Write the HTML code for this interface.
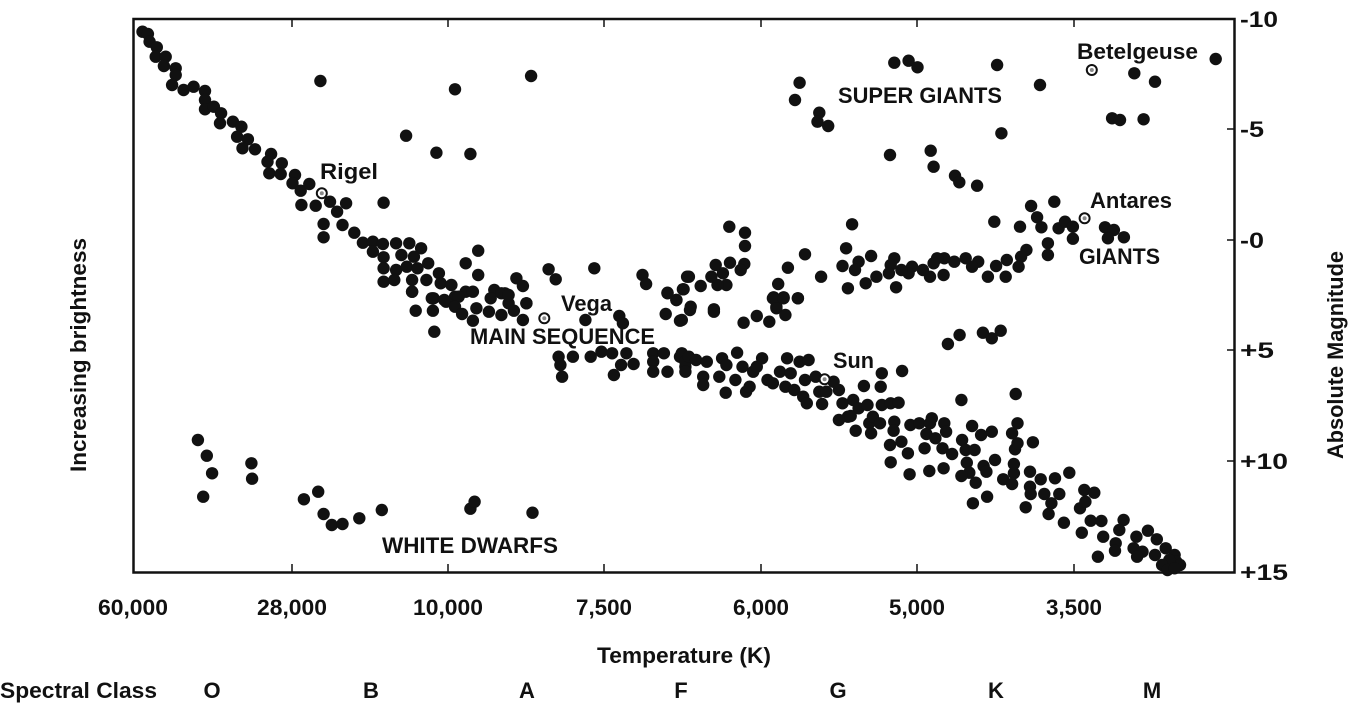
<!DOCTYPE html>
<html><head><meta charset="utf-8"><style>
html,body{margin:0;padding:0;background:#fff;width:1352px;height:707px;overflow:hidden}
text{font-family:"Liberation Sans Narrow","Liberation Sans",sans-serif;font-weight:bold;fill:#111}
</style></head><body>
<svg id="s" width="1352" height="707" viewBox="0 0 1352 707" xmlns="http://www.w3.org/2000/svg">
<rect x="0" y="0" width="1352" height="707" fill="#fff"/>
<rect x="133.5" y="19" width="1101" height="553.5" fill="none" stroke="#111" stroke-width="2.5"/>
<g stroke="#111" stroke-width="1.5">
<line x1="292" y1="19" x2="292" y2="27"/><line x1="448" y1="19" x2="448" y2="27"/><line x1="604" y1="19" x2="604" y2="27"/><line x1="761" y1="19" x2="761" y2="27"/><line x1="917" y1="19" x2="917" y2="27"/><line x1="1074" y1="19" x2="1074" y2="27"/>
<line x1="292" y1="572" x2="292" y2="564"/><line x1="448" y1="572" x2="448" y2="564"/><line x1="604" y1="572" x2="604" y2="564"/><line x1="761" y1="572" x2="761" y2="564"/><line x1="917" y1="572" x2="917" y2="564"/><line x1="1074" y1="572" x2="1074" y2="564"/>
<line x1="1234" y1="129" x2="1227" y2="129"/><line x1="1234" y1="240" x2="1227" y2="240"/><line x1="1234" y1="350" x2="1227" y2="350"/><line x1="1234" y1="461" x2="1227" y2="461"/>
</g>
<g id="dots" fill="#111"></g>
<g font-size="22">
<text x="320" y="179" textLength="58" lengthAdjust="spacingAndGlyphs">Rigel</text>
<text x="561" y="311" textLength="51" lengthAdjust="spacingAndGlyphs">Vega</text>
<text x="470" y="344" textLength="185" lengthAdjust="spacingAndGlyphs">MAIN SEQUENCE</text>
<text x="838" y="103" textLength="164" lengthAdjust="spacingAndGlyphs">SUPER GIANTS</text>
<text x="1077" y="59" textLength="121" lengthAdjust="spacingAndGlyphs">Betelgeuse</text>
<text x="1090" y="208" textLength="82" lengthAdjust="spacingAndGlyphs">Antares</text>
<text x="1079" y="264" textLength="81" lengthAdjust="spacingAndGlyphs">GIANTS</text>
<text x="833" y="368" textLength="41" lengthAdjust="spacingAndGlyphs">Sun</text>
<text x="382" y="553" textLength="176" lengthAdjust="spacingAndGlyphs">WHITE DWARFS</text>
</g>
<g font-size="22" text-anchor="middle">
<text x="133" y="615" textLength="70" lengthAdjust="spacingAndGlyphs">60,000</text>
<text x="292" y="615" textLength="70" lengthAdjust="spacingAndGlyphs">28,000</text>
<text x="448" y="615" textLength="70" lengthAdjust="spacingAndGlyphs">10,000</text>
<text x="604" y="615" textLength="56" lengthAdjust="spacingAndGlyphs">7,500</text>
<text x="761" y="615" textLength="56" lengthAdjust="spacingAndGlyphs">6,000</text>
<text x="917" y="615" textLength="56" lengthAdjust="spacingAndGlyphs">5,000</text>
<text x="1074" y="615" textLength="56" lengthAdjust="spacingAndGlyphs">3,500</text>
<text x="684" y="663" textLength="174" lengthAdjust="spacingAndGlyphs">Temperature (K)</text>
<text x="212" y="698">O</text><text x="371" y="698">B</text><text x="527" y="698">A</text><text x="681" y="698">F</text><text x="838" y="698">G</text><text x="996" y="698">K</text><text x="1152" y="698">M</text>
</g>
<text x="0" y="698" font-size="22" textLength="157" lengthAdjust="spacingAndGlyphs">Spectral Class</text>
<g font-size="22">
<text x="1240" y="27" textLength="38" lengthAdjust="spacingAndGlyphs">-10</text>
<text x="1240" y="137" textLength="24" lengthAdjust="spacingAndGlyphs">-5</text>
<text x="1240" y="248" textLength="24" lengthAdjust="spacingAndGlyphs">-0</text>
<text x="1240" y="358" textLength="34" lengthAdjust="spacingAndGlyphs">+5</text>
<text x="1240" y="469" textLength="48" lengthAdjust="spacingAndGlyphs">+10</text>
<text x="1240" y="580" textLength="48" lengthAdjust="spacingAndGlyphs">+15</text>
</g>
<text transform="translate(1343,355) rotate(-90)" font-size="22" text-anchor="middle" textLength="208" lengthAdjust="spacingAndGlyphs">Absolute Magnitude</text>
<text transform="translate(86,355) rotate(-90)" font-size="22" text-anchor="middle" textLength="234" lengthAdjust="spacingAndGlyphs">Increasing brightness</text>
</svg>
<script>
var sets=[
[130,10,[[35,65],[50,72],[55,95],[75,112],[72,140],[100,140],[95,168],[128,175],[128,195],[118,225],[150,240],[178,230],[210,243],[210,270],[210,298],[235,290],[255,310],[252,340],[288,335],[312,350],[300,380],[330,388],[315,415],[350,418],[395,432],[385,455],[425,460],[390,490],[422,492],[462,495],[455,520],[478,542],[502,522],[560,575],[605,580],[480,585],[520,587],[580,605],[542,642],[595,645],[542,682],[628,668],[652,698],[680,695],[708,702],[745,700],[782,700],[815,715],[680,725],[710,742],[760,735],[795,740],[835,760],[710,775],[745,780],[775,770],[805,775],[710,815],[740,810],[790,810],[830,810],[865,790],[790,845],[870,820],[900,825],[940,760],[975,722],[975,795],[940,845],[910,860],[885,875],[850,865],[1020,840],[1050,850],[1082,805],[1100,828],[1060,880],[1110,880],[1172,778],[1192,808],[1300,775],[1435,795],[1445,822],[1505,848],[1548,838],[1560,800],[1530,870],[533,213],[910,238],[1123,198],[773,377],[858,428],[953,432],[710,578]]],
[130,290,[[790,5],[845,25],[880,30],[920,20],[960,5],[1010,25],[1040,10],[1060,15],[1110,40],[800,62],[848,62],[910,50],[930,72],[970,55],[1005,65],[1040,75],[1075,62],[1100,90],[960,92],[852,125],[1370,78],[1380,100],[1275,90],[1500,72],[1540,92],[1530,30],[1505,10],[1200,200],[1240,200],[1290,200],[1320,185],[1350,190],[1390,190],[1410,222],[1375,225],[1205,225],[1210,260],[1355,255],[1465,190],[1495,190],[1465,215],[1465,245],[1505,245],[1540,200],[1555,230],[190,450],[215,497],[230,550],[205,620],[340,520],[342,566],[487,628],[527,605],[542,672],[565,705],[595,702],[642,685],[705,660],[953,656],[965,635],[1127,668]]],
[680,10,[[335,218],[322,270],[390,308],[385,335],[415,348],[600,158],[640,152],[665,172],[888,165],[1008,225],[900,370],[1272,190],[1330,215],[1500,147],[1210,325],[1232,330],[1298,328],[588,435],[702,422],[710,470],[770,497],[782,517],[832,527],[880,635],[952,650],[983,588],[1000,622],[1012,652],[1048,575],[1060,655],[1078,635],[1100,650],[1100,686],[1190,652],[1215,660],[1198,685],[1243,682],[1030,700],[1030,735],[970,720],[955,740],[948,770],[915,750],[912,800],[885,768],[862,800],[835,755],[818,770],[800,745],[768,755],[738,795],[740,745],[720,745],[710,760],[700,800],[680,780],[650,770],[640,790],[620,780],[600,745],[590,765],[585,790],[605,832],[550,800],[535,738],[520,820],[500,755],[490,780],[470,835],[455,768],[465,715],[482,643],[395,800],[350,733],[302,773],[330,865],[290,862],[275,822],[262,862],[270,890],[138,650],[182,668],[182,708],[180,762],[170,780],[140,758],[120,790],[100,765],[130,825],[105,825],[88,800],[58,828],[25,800],[10,838],[30,890],[95,898]]],
[680,290,[[260,25],[290,25],[330,25],[270,55],[295,75],[250,95],[215,78],[178,98],[95,65],[28,60],[5,90],[750,162],[783,135],[848,128],[873,145],[898,122],[5,190],[15,215],[25,200],[45,210],[15,245],[65,260],[65,285],[75,215],[110,260],[118,205],[130,225],[128,308],[155,270],[160,188],[175,230],[185,305],[195,290],[205,245],[215,230],[230,205],[245,270],[260,280],[280,245],[300,205],[295,290],[310,250],[320,300],[335,215],[350,270],[360,210],[345,320],[355,340],[380,260],[390,305],[398,342],[410,305],[430,275],[445,300],[455,340],[485,330],[470,380],[500,355],[525,345],[515,288],[565,250],[562,290],[565,345],[590,340],[612,338],[622,243],[445,390],[478,378],[492,422],[530,400],[540,380],[560,400],[535,430],[600,395],[598,422],[588,465],[620,455],[590,517],[638,490],[645,405],[670,400],[690,432],[705,385],[740,400],[745,425],[715,445],[700,400],[685,475],[735,475],[762,492],[790,450],[800,480],[825,480],[818,408],[843,435],[873,425],[788,330],[803,518],[810,548],[850,528],[858,545],[882,510],[828,578],[820,640],[860,620],[643,553],[698,543],[738,535],[788,558],[905,568],[930,582],[935,550],[935,522],[938,478],[945,460],[930,430],[945,400],[940,312],[988,457],[980,545],[1010,568],[1050,565],[1090,548],[980,590],[982,612],[1020,612],[1062,612],[1040,640],[968,652],[1032,672],[1075,698],[1120,655],[1135,635],[1132,600],[1160,608],[1150,692],[1180,693],[1125,728],[1185,740],[1242,690],[1230,720],[1220,760],[1218,782],[1170,800],[1278,740],[1310,722],[1335,748],[1270,775],[1295,785],[1280,800],[1330,795],[1360,775],[1385,795],[1390,815],[1400,825],[1370,810],[1350,825],[1365,840],[1385,835]]]
];
var g=document.getElementById('dots'),h='';
sets.forEach(function(s){s[2].forEach(function(p){h+='<circle cx="'+(s[0]+p[0]/2.8).toFixed(1)+'" cy="'+(s[1]+p[1]/3).toFixed(1)+'" r="6.2"/>';});});
var sp=[[130,10,537,550],[130,290,1160,85],[680,10,1153,180],[680,10,1133,625],[680,290,405,268]];
sp.forEach(function(p){var x=(p[0]+p[2]/2.8).toFixed(1),y=(p[1]+p[3]/3).toFixed(1);h+='<circle cx="'+x+'" cy="'+y+'" r="5" fill="#fff" stroke="#111" stroke-width="2"/><circle cx="'+x+'" cy="'+y+'" r="2" fill="#888"/>';});
g.innerHTML=h;
</script>
</body></html>
